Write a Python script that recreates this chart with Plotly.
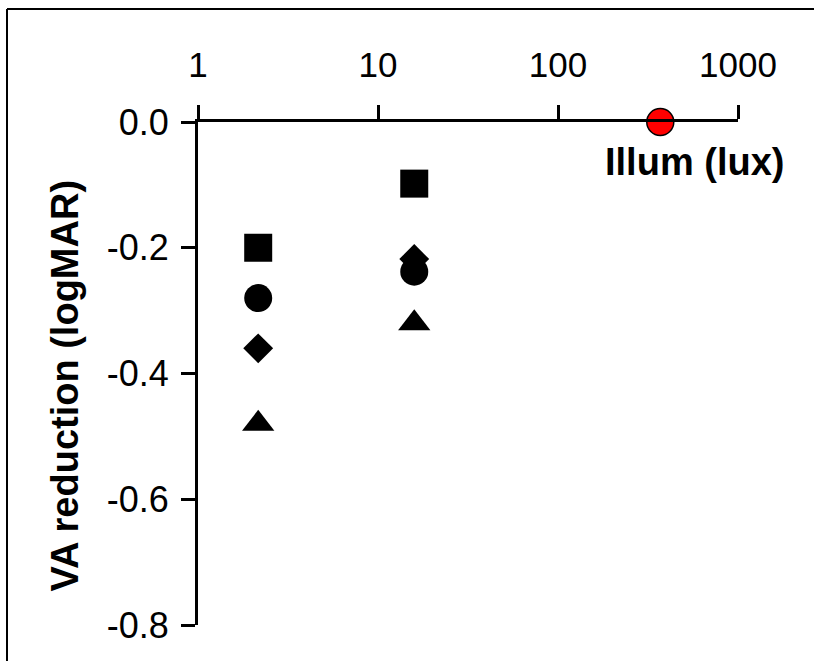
import plotly.graph_objects as go

# Data
illum = [2.16, 15.9]
square_vals = [-0.20, -0.098]
circle_vals = [-0.28, -0.238]
diamond_vals = [-0.36, -0.218]
triangle_vals = [-0.48, -0.32]
ref_illum = [370]
ref_vals = [0.0]

x_tickvals = [1, 10, 100, 1000]
x_ticktext = ["1", "10", "100", "1000"]
y_tickvals = [0.0, -0.2, -0.4, -0.6, -0.8]
y_ticktext = ["0.0", "-0.2", "-0.4", "-0.6", "-0.8"]

FONT = "Liberation Sans, Arial, sans-serif"

fig = go.Figure()

series = [
    (square_vals, "square", 28),
    (circle_vals, "circle", 28),
    (diamond_vals, "diamond", 23),
    (triangle_vals, "triangle-up", 28),
]
for vals, sym, sz in series:
    fig.add_trace(go.Scatter(
        x=illum, y=vals, mode="markers", cliponaxis=False,
        marker=dict(symbol=sym, size=sz, color="black", line=dict(width=0)),
        showlegend=False,
    ))

fig.add_trace(go.Scatter(
    x=ref_illum, y=ref_vals, mode="markers", cliponaxis=False,
    marker=dict(symbol="circle", size=27, color="#ff0000",
                line=dict(width=1.5, color="black")),
    showlegend=False,
))

frame = dict(color="black", width=2)

fig.update_layout(
    width=814, height=661,
    margin=dict(l=198, r=76, t=122, b=36, pad=0),
    paper_bgcolor="white", plot_bgcolor="white",
    font=dict(family=FONT, size=35, color="black"),
    xaxis=dict(
        type="log", range=[0, 3], side="top",
        tickvals=x_tickvals, ticktext=x_ticktext,
        ticks="outside", ticklen=14, tickwidth=3, tickcolor="black",
        showline=True, linewidth=3, linecolor="black",
        showgrid=False, zeroline=False,
        ticklabelstandoff=14,
        tickfont=dict(family=FONT, size=35, color="black"),
    ),
    yaxis=dict(
        range=[-0.8, 0],
        tickvals=y_tickvals, ticktext=y_ticktext,
        ticks="outside", ticklen=14, tickwidth=3, tickcolor="black",
        showline=True, linewidth=3, linecolor="black",
        showgrid=False, zeroline=False,
        ticklabelstandoff=5,
        tickfont=dict(family=FONT, size=36, color="black"),
    ),
    annotations=[
        dict(
            text="Illum (lux)", xref="paper", yref="paper",
            x=0.92, y=0.92, xanchor="center", yanchor="middle", showarrow=False,
            font=dict(family=FONT, size=38, color="black", weight="bold"),
        ),
        dict(
            text="VA reduction (logMAR)", xref="paper", yref="paper",
            x=-0.2463, y=0.476, xanchor="center", yanchor="middle",
            textangle=-90, showarrow=False,
            font=dict(family=FONT, size=38, color="black", weight="bold"),
        ),
    ],
    shapes=[
        dict(type="line", xref="paper", yref="paper",
             x0=-0.3537, x1=1.3, y0=1.2247, y1=1.2247, line=frame, layer="above"),
        dict(type="line", xref="paper", yref="paper",
             x0=-0.3537, x1=-0.3537, y0=-0.3, y1=1.2247, line=frame, layer="above"),
    ],
)

fig.write_html(
    "out.html",
    config={"displayModeBar": False},
    post_script=(
        "document.documentElement.style.overflow='hidden';"
        "document.documentElement.style.margin='0';"
        "document.body.style.margin='0';"
        "document.body.style.overflow='hidden';"
    ),
)
